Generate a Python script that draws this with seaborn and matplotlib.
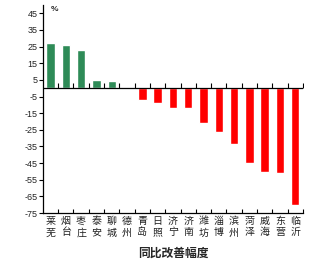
import numpy as np
import pandas as pd
import matplotlib
matplotlib.use("Agg")
import matplotlib.pyplot as plt
import seaborn as sns

cities = ["莱芜", "烟台", "枣庄", "泰安", "聊城", "德州", "青岛", "日照", "济宁", "济南",
          "潍坊", "淄博", "滨州", "菏泽", "威海", "东营", "临沂"]
values = [27, 26, 23, 5, 4.5, 0, -7, -9, -12, -12, -21, -26.5, -33.5, -45, -50.5, -51, -70]
yticks = [45, 35, 25, 15, 5, -5, -15, -25, -35, -45, -55, -65, -75]

sns.set_theme(style="white")
plt.rcParams["font.family"] = ["Liberation Sans", "Noto Sans CJK SC", "DejaVu Sans"]

df = pd.DataFrame({"city": ["\n".join(c) for c in cities], "value": values})
colors = ["#2e8b57" if v > 0 else "#ff0000" for v in values]

fig = plt.figure(figsize=(3.25, 2.65), dpi=100)
ax = fig.add_axes([0.132, 0.196, 0.8, 0.785])
sns.barplot(data=df, x="city", y="value", hue="city", palette=colors, legend=False,
            width=0.55, ax=ax, saturation=1)

n = len(cities)
ax.set_xlim(-0.5, n - 0.5)
ax.set_ylim(-75, 50)
ax.set_yticks(yticks)
ax.set_yticklabels([str(t) for t in yticks], fontsize=6.5, color="#222222")
ax.tick_params(axis="y", direction="out", length=3, width=0.8, color="black", pad=1, left=True)
ax.set_xlabel("")
ax.set_ylabel("")

for s in ["top", "right"]:
    ax.spines[s].set_visible(False)
for s in ["left", "bottom"]:
    ax.spines[s].set_color("black")
    ax.spines[s].set_linewidth(0.9)

bounds = np.arange(n + 1) - 0.5
ax.set_xticks(bounds[1:], minor=True)
ax.tick_params(axis="x", which="minor", direction="in", length=3, width=0.8,
               color="black", bottom=True)
ax.tick_params(axis="x", which="major", length=0, labelsize=7.2, pad=2,
               labelcolor="#222222")

ax.axhline(0, color="black", lw=0.9)
ax.plot(bounds[1:], np.zeros(n), linestyle="none", marker=2, markersize=3.5,
        markeredgewidth=0.8, color="black")

ax.text(0.03, 0.995, "%", transform=ax.transAxes, fontsize=6, fontweight="bold",
        va="top", ha="left")
ax.set_title("同比改善幅度", y=-0.25, fontsize=8.5, fontweight="bold")

fig.savefig("out.png", dpi=100)
